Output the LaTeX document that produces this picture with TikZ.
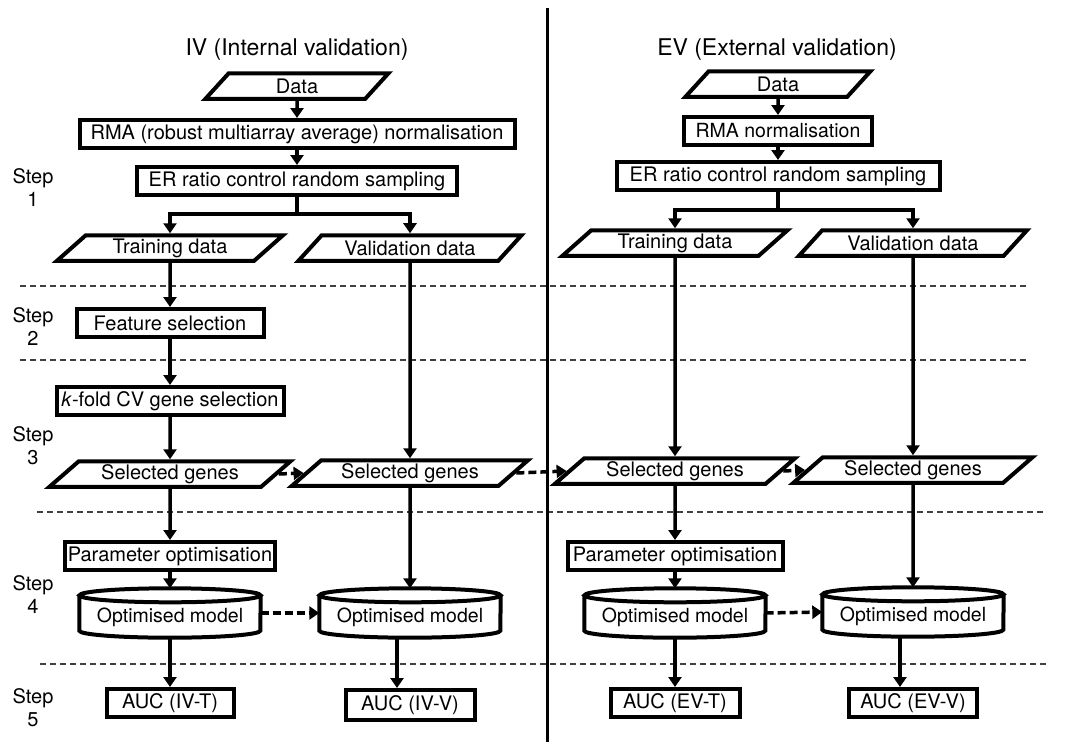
\documentclass[tikz,border=0pt]{standalone}
\usepackage{fontspec}
\setmainfont{TeX Gyre Heros}
\usetikzlibrary{shapes.geometric,arrows.meta,calc}
\begin{document}
\begin{tikzpicture}[x=1pt,y=-1pt,
  font=\fontsize{20}{23}\selectfont,
  box/.style={draw, line width=4pt, rectangle, inner sep=1pt, minimum height=28},
  para/.style={draw, line width=4pt, trapezium, trapezium left angle=36, trapezium right angle=144, trapezium stretches body, inner sep=1pt, minimum height=25.5},
  cylbox/.style={rectangle, inner sep=0pt, minimum width=181, minimum height=49, font=\fontsize{19.5}{23}\selectfont},
  ln/.style={line width=3.5pt},
  arr/.style={line width=3.5pt, -{Triangle[length=10pt,width=13pt]}},
  darr/.style={line width=3.5pt, dash pattern=on 8pt off 4pt, -{Triangle[length=10pt,width=13pt]}},
  sep/.style={line width=1.2pt, dash pattern=on 6pt off 4pt, black!75},
  cylline/.style={line width=4pt},
  steplab/.style={align=center, font=\fontsize{20}{23}\selectfont},
  title/.style={font=\fontsize{23}{27}\selectfont}
]
\useasboundingbox (0,0) rectangle (1072,742);

% separators
\draw[sep] (20,286) -- (1028,286);
\draw[sep] (20,360) -- (1028,360);
\draw[sep] (37,512) -- (1045,512);
\draw[sep] (40,664) -- (1048,664);

% divider
\coordinate (dvT) at (547,8);
\coordinate (dvB) at (547,742);
\draw[line width=3pt] (dvT) -- (dvB);

% titles
\node[title] (tIV) at (297,50) {IV (Internal validation)};
\node[title] (tEV) at (777,50) {EV (External validation)};

% step labels
\node[steplab] (s1) at (33,188) {Step\\1};
\node[steplab] (s2) at (33,327) {Step\\2};
\node[steplab] (s3) at (33,446) {Step\\3};
\node[steplab] (s4) at (33,595) {Step\\4};
\node[steplab] (s5) at (33,708) {Step\\5};

% IV column
\node[para, minimum width=183] (dIV) at (297,86) {Data};
\node[box, minimum width=435] (rmaIV) at (297,134) {RMA (robust multiarray average) normalisation};
\node[box, minimum width=320] (erIV) at (297,181) {ER ratio control random sampling};
\node[para, minimum width=226] (trIV) at (170,248) {Training data};
\node[para, minimum width=223] (vaIV) at (410,248) {Validation data};
\node[box, minimum width=187] (feIV) at (170,323) {Feature selection};
\node[box, minimum width=227] (kfIV) at (170,401) {\textit{k}-fold CV gene selection};
\node[para, minimum width=241] (sgtIV) at (170,474) {Selected genes};
\node[para, minimum width=236] (sgvIV) at (410,473) {Selected genes};
\node[box, minimum width=210] (poIV) at (170,556) {Parameter optimisation};
\node[cylbox] (omtIV) at (170,613) {\raisebox{-4pt}[\height][\depth]{Optimised model}};
\node[cylbox] (omvIV) at (410,613) {\raisebox{-4pt}[\height][\depth]{Optimised model}};
\node[box, minimum width=127] (auctIV) at (170,703) {AUC (IV-T)};
\node[box, minimum width=129, minimum height=30] (aucvIV) at (410,705) {AUC (IV-V)};

% EV column
\node[para, minimum width=185] (dEV) at (778,84) {Data};
\node[box, minimum width=188, font=\fontsize{19.5}{23}\selectfont] (rmaEV) at (778,131) {RMA normalisation};
\node[box, minimum width=323] (erEV) at (778,176) {ER ratio control random sampling};
\node[para, minimum width=225] (trEV) at (675,243) {Training data};
\node[para, minimum width=228] (vaEV) at (913,243) {Validation data};
\node[para, minimum width=240] (sgtEV) at (675,471) {Selected genes};
\node[para, minimum width=239] (sgvEV) at (913,470) {Selected genes};
\node[box, minimum width=215] (poEV) at (675,556) {Parameter optimisation};
\node[cylbox] (omtEV) at (675,613) {\raisebox{-4pt}[\height][\depth]{Optimised model}};
\node[cylbox] (omvEV) at (913,612) {\raisebox{-4pt}[\height][\depth]{Optimised model}};
\node[box, minimum width=129] (auctEV) at (675,703) {AUC (EV-T)};
\node[box, minimum width=128] (aucvEV) at (913,703) {AUC (EV-V)};

% cylinders
\foreach \c in {omtIV,omvIV,omtEV,omvEV}{
  \draw[cylline] ($(\c.north west)+(0,7)$) -- ($(\c.south west)+(0,-7)$)
     arc[start angle=180,end angle=0,x radius=90.5,y radius=7]
     -- ($(\c.north east)+(0,7)$);
  \draw[cylline] ($(\c.north)+(0,7)$) ellipse[x radius=90.5, y radius=7];
}

% IV connectors
\coordinate (spIV) at (297,214);
\draw[arr] (dIV.south) -- (rmaIV.north);
\draw[arr] (rmaIV.south) -- (erIV.north);
\draw[ln] (erIV.south) -- (spIV);
\draw[arr] (spIV) -| (trIV.north);
\draw[arr] (spIV) -| (vaIV.north);
\draw[arr] (trIV.south) -- (feIV.north);
\draw[arr] (feIV.south) -- (kfIV.north);
\draw[arr] (kfIV.south) -- (sgtIV.north);
\draw[arr] (vaIV.south) -- (sgvIV.north);
\draw[arr] (sgtIV.south) -- (poIV.north);
\draw[arr] (poIV.south) -- (omtIV.north);
\draw[arr] (sgvIV.south) -- (omvIV.north);
\draw[arr] (omtIV.south) -- (auctIV.north);
\draw[arr] ([xshift=-13pt]omvIV.south) -- ([xshift=-13pt]aucvIV.north);

% EV connectors
\coordinate (spEV) at (778,210);
\draw[arr] (dEV.south) -- (rmaEV.north);
\draw[arr] (rmaEV.south) -- (erEV.north);
\draw[ln] (erEV.south) -- (spEV);
\draw[arr] (spEV) -| (trEV.north);
\draw[arr] (spEV) -| (vaEV.north);
\draw[arr] (trEV.south) -- (sgtEV.north);
\draw[arr] (vaEV.south) -- (sgvEV.north);
\draw[arr] (sgtEV.south) -- (poEV.north);
\draw[arr] (poEV.south) -- (omtEV.north);
\draw[arr] (sgvEV.south) -- (omvEV.north);
\draw[arr] (omtEV.south) -- (auctEV.north);
\draw[arr] ([xshift=-13pt]omvEV.south) -- ([xshift=-13pt]aucvEV.north);

% dashed transfers
\draw[darr] (sgtIV.east) -- (sgvIV.west);
\draw[darr] (sgvIV.east) -- (sgtEV.west);
\draw[darr] (sgtEV.east) -- (sgvEV.west);
\draw[darr] (omtIV.east) -- (omvIV.west);
\draw[darr] (omtEV.east) -- (omvEV.west);
\end{tikzpicture}
\end{document}
